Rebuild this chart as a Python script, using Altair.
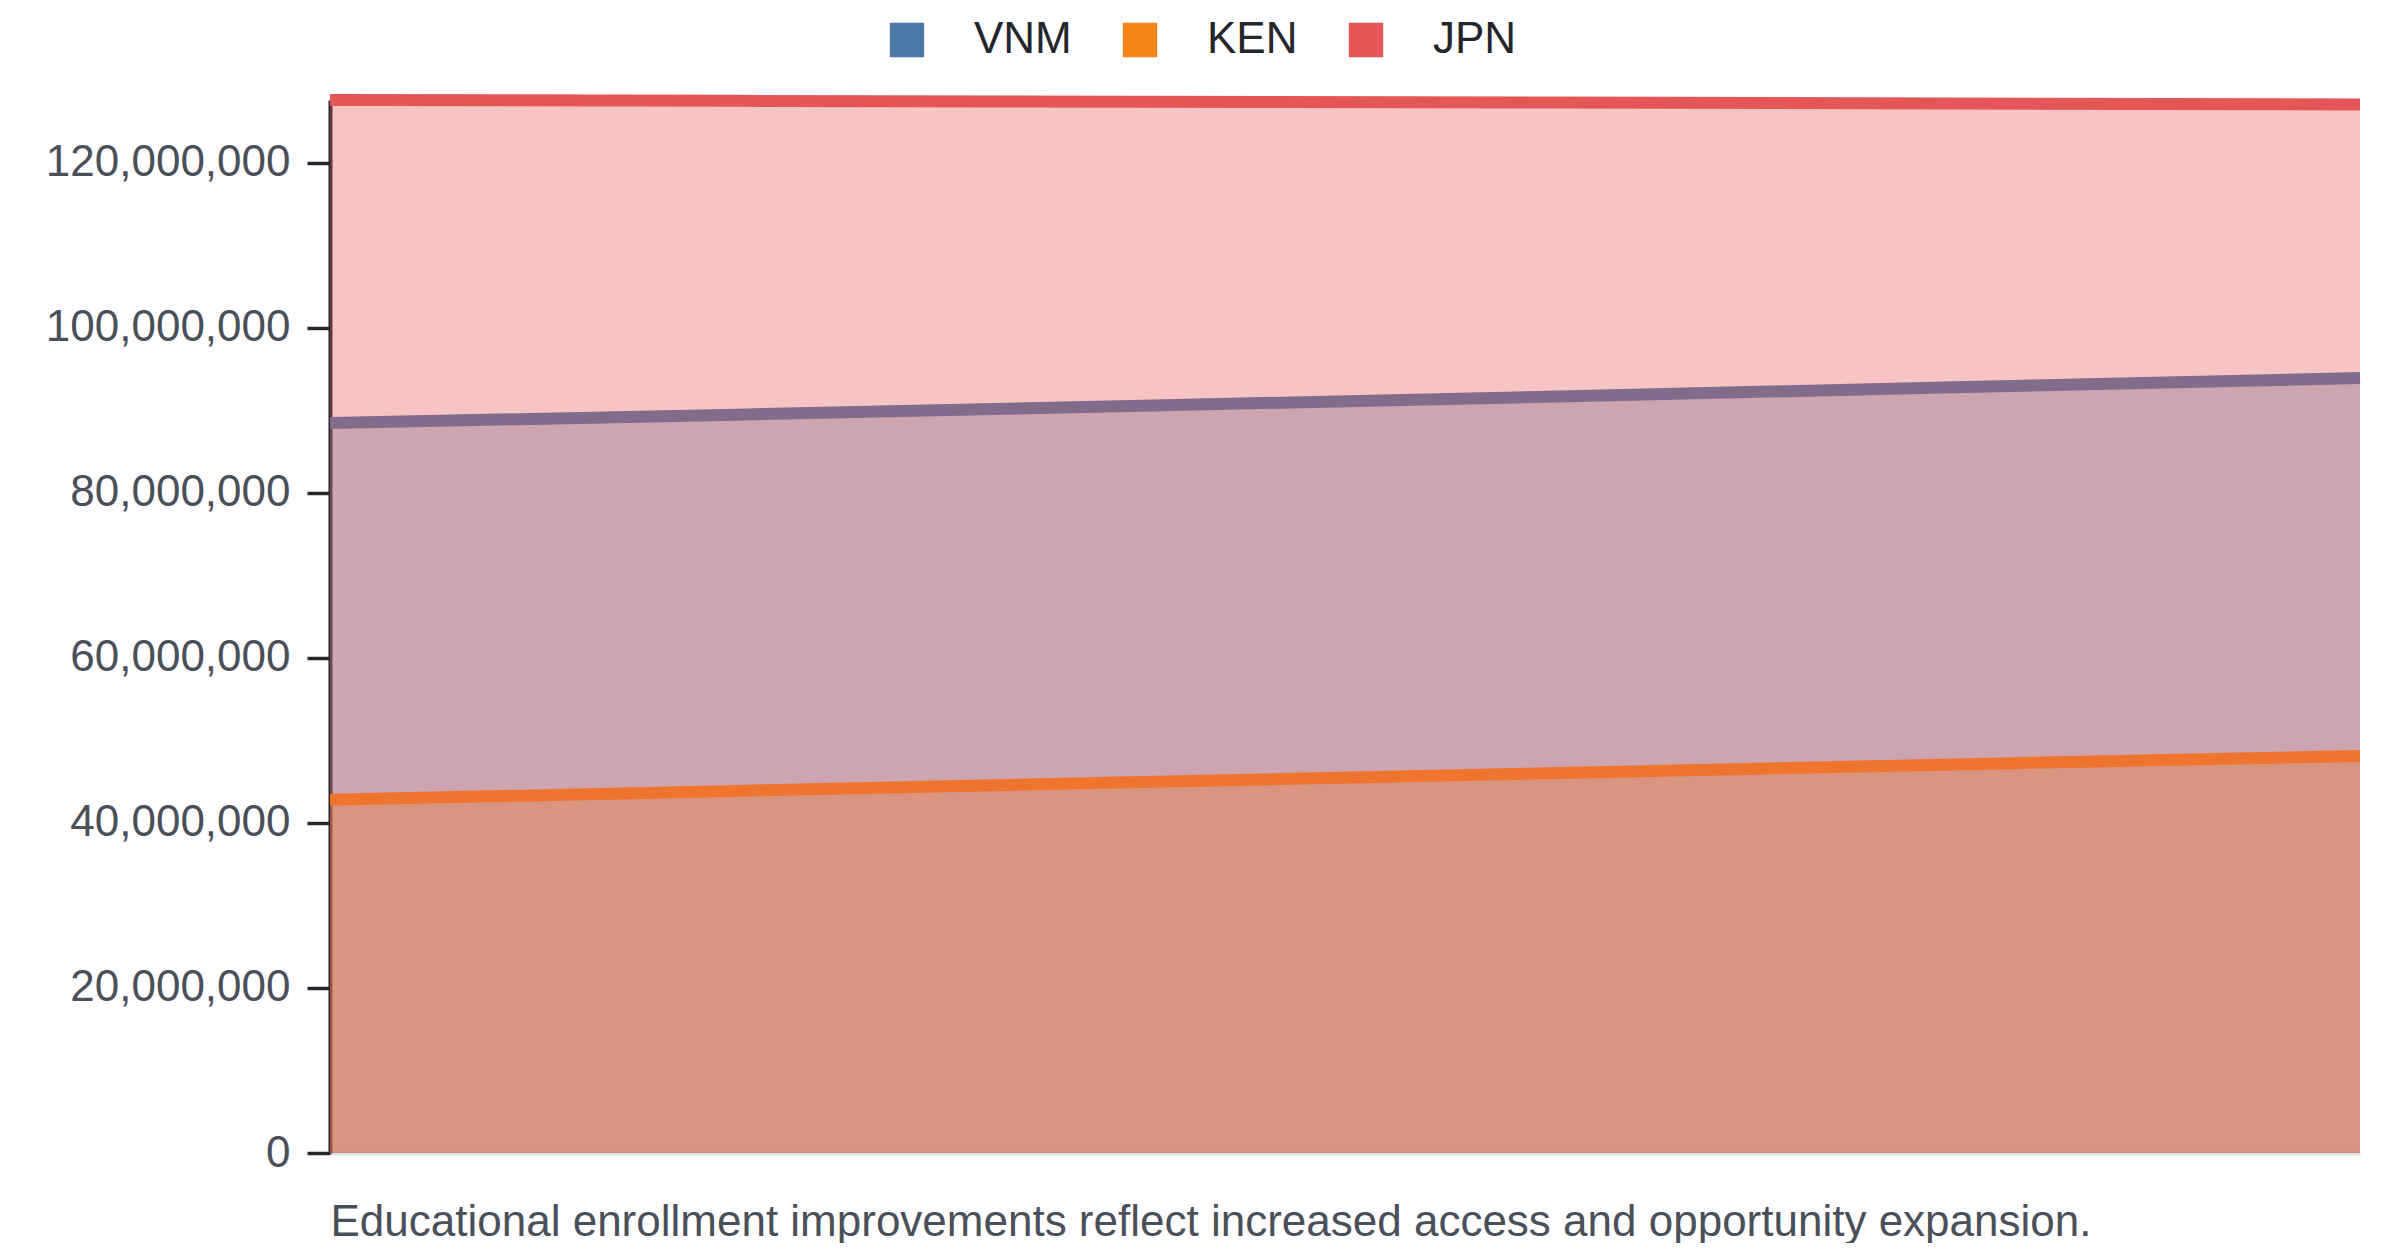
import altair as alt
import pandas as pd

# ---- data ----
years = [2010, 2011, 2012, 2013, 2014, 2015]
countries = ["VNM", "KEN", "JPN"]
vnm = [88_450_000, 89_470_000, 90_550_000, 91_650_000, 92_780_000, 93_900_000]
ken = [42_800_000, 43_880_000, 44_960_000, 46_020_000, 47_080_000, 48_120_000]
jpn = [127_600_000, 127_500_000, 127_400_000, 127_290_000, 127_170_000, 127_060_000]
colors = ["#4c78a8", "#f58518", "#e45756"]
y_ticks = [0, 20_000_000, 40_000_000, 60_000_000, 80_000_000, 100_000_000, 120_000_000]
caption = "Educational enrollment improvements reflect increased access and opportunity expansion."

series = {"VNM": vnm, "KEN": ken, "JPN": jpn}
rows = []
for c in countries:
    for yr, v in zip(years, series[c]):
        rows.append({"year": yr, "country": c, "value": v})
df = pd.DataFrame(rows)

FONT = "Liberation Sans"

x_enc = alt.X(
    "year:Q",
    scale=alt.Scale(domain=[years[0], years[-1]], nice=False, zero=False),
    axis=alt.Axis(
        title=caption,
        labels=False,
        ticks=False,
        grid=False,
        domainColor="#dde1e5",
        domainWidth=4,
        titleFont=FONT,
        titleFontSize=44,
        titleFontWeight="normal",
        titleColor="#4a5059",
        titleAnchor="start",
        titleAlign="left",
        titleBaseline="alphabetic",
        titleX=0,
        titleY=82,
        titleLimit=0,
    ),
)
y_enc = alt.Y(
    "value:Q",
    scale=alt.Scale(nice=False, zero=True),
    axis=alt.Axis(
        title=None,
        values=y_ticks,
        format=",d",
        grid=False,
        domainColor="#24272c",
        domainWidth=4,
        tickColor="#24272c",
        tickWidth=3.5,
        tickSize=23,
        labelPadding=17,
        labelLimit=0,
        labelFont=FONT,
        labelFontSize=44,
        labelColor="#4a5059",
    ),
)
color_enc = alt.Color(
    "country:N",
    scale=alt.Scale(domain=countries, range=colors),
    legend=alt.Legend(
        title=None,
        orient="none",
        direction="horizontal",
        legendX=555,
        legendY=-82,
        symbolType="square",
        symbolSize=1180,
        symbolOpacity=1,
        symbolStrokeWidth=0,
        labelFont=FONT,
        labelFontSize=44,
        labelColor="#23262b",
        labelOffset=45,
        columnPadding=46,
        labelLimit=0,
    ),
)

base = alt.Chart(df).encode(x=x_enc, y=y_enc, color=color_enc)

layers = []
for c in countries:
    sub = base.transform_filter(alt.datum.country == c)
    layers.append(sub.mark_area(opacity=0.35))
    layers.append(sub.mark_line(strokeWidth=12))

chart = (
    alt.layer(*layers)
    .properties(
        width=2030,
        height=1053,
        autosize=alt.AutoSizeParams(type="none"),
        padding={"left": 322, "top": 92, "right": 30, "bottom": 90},
    )
    .configure_view(strokeWidth=0)
)

chart.save("out.html", embed_options={"renderer": "svg", "actions": False})
